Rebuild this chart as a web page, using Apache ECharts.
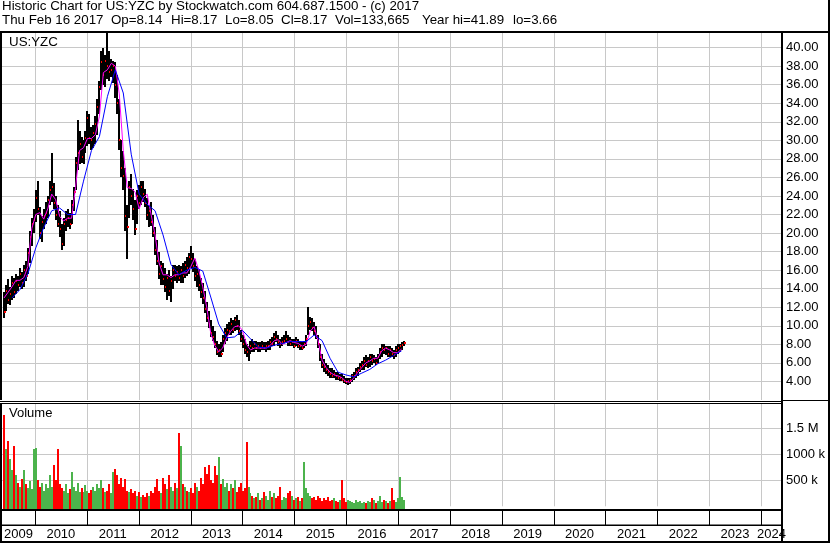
<!DOCTYPE html>
<html><head><meta charset="utf-8">
<script src="https://cdn.jsdelivr.net/npm/echarts@6/dist/echarts.min.js"></script>
<style>html,body{margin:0;padding:0;background:#fff}#c{width:830px;height:543px}</style>
</head><body><div id="c"></div>
<script>
// ---------- DATA ----------
const title1 = 'Historic Chart for US:YZC by Stockwatch.com 604.687.1500 - (c) 2017';
const title2Parts = ['Thu Feb 16 2017', 'Op=8.14', 'Hi=8.17', 'Lo=8.05', 'Cl=8.17', 'Vol=133,665', 'Year hi=41.89', 'lo=3.66'];
const symbolLabel = 'US:YZC';
const volumeLabel = 'Volume';
const axisStart = [2009, 4, 14];   // y, m(0-based), d
const axisEnd = [2024, 4, 28];
const firstBar = [2009, 4, 28];    // first 2-week bar
const barStepDays = 14;
const years = ['2009','2010','2011','2012','2013','2014','2015','2016','2017','2018','2019','2020','2021','2022','2023','2024'];
const priceTickValues = [4,6,8,10,12,14,16,18,20,22,24,26,28,30,32,34,36,38,40];
const priceTickLabels = ['4.00','6.00','8.00','10.00','12.00','14.00','16.00','18.00','20.00','22.00','24.00','26.00','28.00','30.00','32.00','34.00','36.00','38.00','40.00'];
const volTickValues = [500000, 1000000, 1500000];
const volTickLabels = ['500 k', '1000 k', '1.5 M'];

const low = [
10.8,11.6,12.4,12.2,12.8,13.0,13.4,13.8,14.2,14.0,
14.2,14.8,15.6,16.8,18.6,20.0,21.2,22.0,19.4,19.0,
20.4,21.0,21.6,23.0,23.4,22.6,21.4,20.6,19.6,18.2,
18.6,20.2,20.6,20.4,21.0,22.4,24.6,26.8,27.4,27.6,
27.4,28.6,29.4,29.6,29.0,29.2,29.6,30.6,32.8,35.4,
36.0,35.8,36.6,36.4,36.8,36.2,34.6,32.8,29.0,26.0,
24.6,20.2,17.2,21.6,23.0,21.4,19.8,21.0,22.6,23.0,
23.4,22.8,21.4,20.6,20.8,19.6,17.6,16.6,15.0,14.4,
14.4,13.6,12.8,13.2,12.6,14.0,14.8,14.6,14.8,14.6,
14.6,15.2,15.4,15.6,16.2,15.8,14.8,14.2,13.8,13.0,
12.4,11.4,10.4,9.8,8.8,8.4,7.6,6.8,6.6,6.6,
7.2,8.0,8.4,9.0,9.0,9.2,9.4,9.6,9.0,8.2,
7.6,7.0,6.6,6.2,7.0,7.2,7.2,7.4,7.2,7.2,
7.4,7.4,7.2,7.4,7.4,7.8,7.8,8.2,7.8,7.6,
7.8,8.0,8.2,7.8,7.8,7.8,7.6,7.8,7.6,7.4,
7.4,7.6,7.8,9.0,9.6,9.4,9.0,8.6,7.6,6.2,
5.4,5.0,4.8,4.6,4.4,4.4,4.4,4.2,4.2,4.0,
4.0,3.8,3.7,3.66,3.7,3.9,4.2,4.4,4.6,5.0,
5.2,5.2,5.6,5.4,5.6,5.8,6.0,5.8,6.0,6.4,
6.6,7.0,6.8,6.6,6.6,6.6,6.4,6.6,7.0,7.2,
7.4,7.8];
const high = [
13.6,14.4,15.0,14.2,15.4,15.2,15.6,15.4,16.2,15.8,
16.6,17.0,18.4,20.2,21.6,22.6,24.6,25.6,22.8,21.8,
22.6,23.4,24.0,25.6,28.6,25.4,24.0,23.0,22.4,21.0,
21.6,22.4,22.6,22.2,23.6,25.0,28.2,32.2,31.0,30.4,
30.0,31.0,33.2,32.8,31.4,31.6,32.6,34.4,36.4,39.6,
40.0,39.2,41.89,39.6,38.8,38.6,38.4,37.0,34.4,30.0,
28.8,27.0,23.0,25.6,26.4,24.8,23.6,24.6,25.2,25.6,
25.6,24.8,23.8,23.0,23.4,22.0,20.6,19.2,18.0,17.0,
16.8,16.2,15.6,16.0,15.4,16.6,16.6,16.4,16.6,16.4,
16.8,17.0,17.4,17.8,18.6,17.8,17.2,16.4,16.0,15.2,
14.6,13.8,12.6,11.6,10.6,10.0,9.4,8.4,8.0,8.2,
9.0,9.8,10.2,10.4,10.8,10.6,11.0,11.2,10.6,9.6,
9.0,8.6,8.0,7.8,8.4,8.6,8.4,8.4,8.2,8.2,
8.4,8.2,8.2,8.4,8.6,8.8,9.2,9.4,9.0,8.6,
8.8,9.0,9.4,9.0,8.8,8.6,8.6,8.8,8.6,8.4,
8.2,8.4,9.0,12.0,11.0,10.8,10.4,10.0,9.0,8.0,
7.0,6.4,6.0,5.8,5.4,5.4,5.2,5.0,5.0,4.8,
4.8,4.6,4.4,4.4,4.4,4.8,5.0,5.4,5.6,6.0,
6.2,6.6,6.8,6.6,7.0,7.0,6.8,6.6,7.0,7.6,
8.0,8.0,7.8,7.8,7.8,7.6,7.4,7.8,8.0,8.0,
8.2,8.4];
const close = [
11.5,13.8,12.8,13.4,14.6,13.6,14.8,14.4,15.6,14.6,
16.0,15.4,17.8,19.6,21.0,21.4,23.8,22.6,20.0,21.2,
21.8,22.2,23.6,24.6,25.0,23.2,22.0,21.0,20.4,18.8,
21.0,21.4,21.6,21.0,23.0,24.4,27.6,28.6,29.6,28.2,
29.4,30.2,32.4,30.2,30.0,30.8,31.8,33.6,35.8,38.4,
37.0,38.6,38.0,37.4,37.6,38.0,36.0,34.0,30.0,27.0,
26.2,21.8,20.6,25.0,24.0,22.6,20.4,24.0,23.2,25.0,
24.2,23.2,22.0,22.4,21.2,20.0,18.2,17.0,15.6,16.4,
15.0,14.2,15.2,13.8,14.8,16.0,15.4,15.8,15.2,16.0,
15.4,16.6,16.2,17.4,17.2,16.4,15.4,15.6,14.4,13.6,
13.0,11.8,10.8,10.2,9.2,8.8,8.0,7.2,7.4,7.0,
8.6,9.2,9.6,9.4,10.2,9.6,10.6,10.0,9.4,8.6,
8.0,7.4,7.2,7.4,7.8,7.6,8.0,7.6,7.8,7.6,
7.8,7.6,7.8,7.8,8.2,8.0,8.8,8.6,8.2,8.0,
8.2,8.4,8.6,8.2,8.0,8.2,7.8,8.4,7.8,7.8,
7.6,8.0,8.6,10.0,10.4,9.8,9.4,8.8,8.0,6.6,
5.8,5.6,5.2,5.0,4.8,4.6,4.8,4.6,4.4,4.4,
4.2,4.0,3.9,4.0,4.2,4.6,4.6,5.0,5.2,5.6,
5.8,6.2,5.8,6.2,6.6,6.2,6.4,6.0,6.6,7.2,
7.6,7.4,7.6,7.0,7.4,7.0,6.8,7.4,7.6,7.8,
7.9,8.17];
const volumeK = [
1760,1100,1250,900,700, 1150,600,450,380,520,
700,420,350,480,330, 1100,1120,500,380,450,
300,420,350,600,380, 800,500,1100,420,350,
300,420,250,330,650, 380,300,450,280,350,
280,400,300,250,320, 380,300,420,350,500,
350,280,300,420,250, 650,720,600,420,550,
380,520,300,280,330, 250,300,200,280,180,
220,180,260,200,300, 260,380,520,300,250,
550,420,330,600,380, 300,450,350,1400,1160,
420,380,300,280,350, 250,450,380,300,550,
420,750,620,800,500, 450,780,600,950,420,
520,380,450,300,420, 350,500,280,380,450,
300,350,1240,380,250, 200,150,180,250,120,
150,280,200,120,300, 180,250,150,200,380,
120,180,150,250,300, 200,120,150,180,100,
150,860,350,250,200, 150,180,120,200,150,
100,150,120,180,100, 120,150,100,80,120,
500,150,80,120,100, 80,60,120,80,100,
60,80,60,100,80, 150,120,60,100,200,
80,120,100,60,100, 350,120,80,150,570,
180,130];
// magenta average, read every 2nd bar
const maFast = [
13.0,13.6,14.2,14.9,14.9,15.2,16.4,20.5,22.0,22.2,
21.5,22.6,24.2,23.6,21.8,21.3,21.6,21.6,24.9,28.9,
29.2,30.2,30.2,30.6,32.6,37.3,37.6,38.3,38.0,35.0,
28.9,24.9,24.8,24.4,22.6,23.8,24.2,22.0,19.8,16.8,
15.5,15.5,15.2,15.5,15.5,15.7,15.7,16.4,17.3,16.0,
14.2,12.0,9.2,7.9,7.2,7.6,8.7,9.4,9.9,10.0,
9.5,8.0,7.4,7.6,7.6,7.6,7.6,7.9,8.4,8.5,
8.0,8.2,8.4,8.2,8.1,7.8,8.0,9.4,9.9,8.4,
6.3,5.5,5.0,4.7,4.6,4.4,4.0,3.9,4.4,5.0,
5.5,6.0,6.2,6.5,6.5,7.3,7.6,7.4,7.1,7.1,
7.5];
// blue average, read every 4th bar starting at bar 4
const maSlow = [
13.0,13.9,15.6,18.4,20.6,22.4,22.7,22.0,22.0,25.6,
28.9,30.4,34.7,37.6,35.1,28.5,24.2,23.1,22.4,19.8,
16.6,15.5,16.0,16.3,15.9,13.1,10.2,8.7,8.8,9.5,
8.6,7.7,7.6,7.9,8.1,8.3,8.3,8.3,9.0,8.4,
6.5,5.0,4.7,4.5,4.9,5.3,5.9,6.3,6.8,7.3];

// ---------- LAYOUT ----------
const FONT = '"Liberation Sans", Arial, sans-serif';
const title2X = [2, 111, 171, 225, 281, 335, 422, 513];

// ---------- BUILD ----------
const tMin = new Date(axisStart[0], axisStart[1], axisStart[2]).getTime();
const tMax = new Date(axisEnd[0], axisEnd[1], axisEnd[2]).getTime();
const barTime = i => new Date(firstBar[0], firstBar[1], firstBar[2] + barStepDays * i).getTime();

const ohlc = close.map((c, i) => [barTime(i), high[i], low[i], c]);
const vol = volumeK.map((v, i) => [barTime(i), v * 1000, (i > 0 && close[i] >= close[i - 1]) ? 1 : 0]);
const fastLine = maFast.map((v, k) => [barTime(2 * k), v]);
const slowLine = maSlow.map((v, k) => [barTime(4 + 4 * k), v]);
const yearData = years.map(y => [new Date(+y, 0, 1).getTime(), new Date(+y + 1, 0, 1).getTime()]);

const gridLineSeries = (gi) => ({
  type: 'custom', xAxisIndex: gi, yAxisIndex: gi, data: yearData, z: 1, silent: true,
  encode: { x: 0 },
  renderItem: (params, api) => {
    const cs = params.coordSys;
    const x = Math.round(api.coord([api.value(0), gi === 0 ? 10 : 0])[0]) + 0.5;
    if (x <= cs.x + 1 || x >= cs.x + cs.width) return null;
    return { type: 'line', shape: { x1: x, y1: cs.y, x2: x, y2: cs.y + cs.height }, style: { stroke: '#c8c8c8', lineWidth: 1 } };
  }
});

const labelStyle = { color: '#000', fontFamily: FONT, fontSize: 13 };

const headerTexts = title2Parts.map((t, i) => ({
  type: 'text', z: 101, x: title2X[i], y: 20.5,
  style: { text: t, font: '13.33px ' + FONT, fill: '#000', verticalAlign: 'middle' }
}));

const option = {
  animation: false,
  backgroundColor: '#fff',
  grid: [
    { left: 2, right: 48, top: 29, height: 371 },
    { left: 2, right: 48, top: 404, height: 102.3 },
    { left: 2, right: 48, top: 511, height: 30 }
  ],
  xAxis: [0, 1, 2].map(i => ({ type: 'time', gridIndex: i, min: tMin, max: tMax, show: false })),
  yAxis: [
    { type: 'value', gridIndex: 0, position: 'right', min: 2, max: 42, interval: 2,
      axisLine: { show: false }, axisTick: { show: false },
      axisLabel: Object.assign({ margin: 4, formatter: v => { const k = priceTickValues.indexOf(v); return k >= 0 ? priceTickLabels[k] : ''; } }, labelStyle),
      splitLine: { show: true, lineStyle: { color: '#c8c8c8', width: 1 } } },
    { type: 'value', gridIndex: 1, position: 'right', min: 0, max: 1967000, interval: 500000,
      axisLine: { show: false }, axisTick: { show: false },
      axisLabel: Object.assign({ margin: 4, formatter: v => { const k = volTickValues.indexOf(v); return k >= 0 ? volTickLabels[k] : ''; } }, labelStyle),
      splitLine: { show: true, showMinLine: false, showMaxLine: false, lineStyle: { color: '#c8c8c8', width: 1 } } },
    { type: 'value', gridIndex: 2, min: 0, max: 1, show: false }
  ],
  series: [
    gridLineSeries(0),
    gridLineSeries(1),
    { type: 'custom', name: 'price', xAxisIndex: 0, yAxisIndex: 0, data: ohlc, z: 2, clip: true,
      encode: { x: 0, y: [1, 2, 3] },
      renderItem: (params, api) => {
        const t = api.value(0);
        const pH = api.coord([t, api.value(1)]), pL = api.coord([t, api.value(2)]), pC = api.coord([t, api.value(3)]);
        const x = Math.round(pH[0]) - 1;
        const yT = Math.round(pH[1]), yB = Math.round(pL[1]);
        return { type: 'group', children: [
          { type: 'rect', shape: { x: x, y: yT, width: 2, height: Math.max(1, yB - yT) }, style: { fill: '#000' } },
          { type: 'rect', shape: { x: x + 1, y: Math.round(pC[1]) - 1, width: 2, height: 2 }, style: { fill: '#ff0000' } }
        ] };
      } },
    { type: 'line', name: 'fast', xAxisIndex: 0, yAxisIndex: 0, data: fastLine, z: 3, showSymbol: false, smooth: false,
      lineStyle: { color: '#ff00ff', width: 1 }, itemStyle: { color: '#ff00ff' } },
    { type: 'line', name: 'slow', xAxisIndex: 0, yAxisIndex: 0, data: slowLine, z: 4, showSymbol: false, smooth: false,
      lineStyle: { color: '#0000ff', width: 1 }, itemStyle: { color: '#0000ff' } },
    { type: 'custom', name: 'volume', xAxisIndex: 1, yAxisIndex: 1, data: vol, z: 2, clip: false,
      encode: { x: 0, y: 1 },
      renderItem: (params, api) => {
        const t = api.value(0);
        const p = api.coord([t, api.value(1)]), p0 = api.coord([t, 0]);
        const x = Math.round(p[0]) - 1;
        const yT = Math.round(p[1]);
        return { type: 'rect', shape: { x: x, y: yT, width: 2, height: Math.round(p0[1]) + 3 - yT },
          style: { fill: api.value(2) ? '#4cb34c' : '#ff0000' } };
      } },
    { type: 'custom', name: 'years', xAxisIndex: 2, yAxisIndex: 2, data: yearData, z: 5, clip: false, silent: true,
      encode: { x: [0, 1] },
      renderItem: (params, api) => {
        const cs = params.coordSys;
        const xs = api.coord([api.value(0), 0])[0], xe = api.coord([api.value(1), 0])[0];
        const left = Math.max(xs, cs.x), right = Math.min(xe, cs.x + cs.width);
        const children = [];
        if (xs > cs.x + 1 && xs < cs.x + cs.width) {
          const xl = Math.round(xs) + 0.5;
          children.push({ type: 'line', shape: { x1: xl, y1: 511, x2: xl, y2: 525 }, style: { stroke: '#000', lineWidth: 1 } });
        }
        if (right > left) {
          children.push({ type: 'text', style: { text: years[params.dataIndex], x: (left + right) / 2, y: 534.5,
            align: 'center', verticalAlign: 'middle', font: '13px ' + FONT, fill: '#000' } });
        }
        return { type: 'group', children };
      } }
  ],
  graphic: { elements: [
    { type: 'rect', z: 100, shape: { x: 0, y: 0, width: 830, height: 31 }, style: { fill: '#fff' } },
    { type: 'text', z: 101, x: 2, y: 6.5, style: { text: title1, font: '13.33px ' + FONT, fill: '#000', verticalAlign: 'middle' } }
  ].concat(headerTexts).concat([
    { type: 'rect', z: 101, shape: { x: 0, y: 31, width: 830, height: 2 }, style: { fill: '#000' } },
    { type: 'rect', z: 101, shape: { x: 0, y: 31, width: 2, height: 512 }, style: { fill: '#000' } },
    { type: 'rect', z: 101, shape: { x: 828, y: 0, width: 2, height: 543 }, style: { fill: '#000' } },
    { type: 'rect', z: 101, shape: { x: 0, y: 541, width: 830, height: 2 }, style: { fill: '#000' } },
    { type: 'rect', z: 101, shape: { x: 781, y: 31, width: 2, height: 512 }, style: { fill: '#000' } },
    { type: 'rect', z: 101, shape: { x: 0, y: 400, width: 781, height: 3 }, style: { fill: '#fff' } },
    { type: 'rect', z: 101, shape: { x: 0, y: 401, width: 781, height: 1 }, style: { fill: '#000' } },
    { type: 'rect', z: 101, shape: { x: 0, y: 403, width: 781, height: 1 }, style: { fill: '#000' } },
    { type: 'rect', z: 101, shape: { x: 783, y: 400, width: 45, height: 1 }, style: { fill: '#000' } },
    { type: 'rect', z: 101, shape: { x: 0, y: 509, width: 781, height: 2 }, style: { fill: '#000' } },
    { type: 'rect', z: 101, shape: { x: 0, y: 524.5, width: 781, height: 1.5 }, style: { fill: '#000' } },
    { type: 'text', z: 101, x: 9, y: 42.5, style: { text: symbolLabel, font: '13.33px ' + FONT, fill: '#000', verticalAlign: 'middle' } },
    { type: 'text', z: 101, x: 9, y: 413, style: { text: volumeLabel, font: '13px ' + FONT, fill: '#000', verticalAlign: 'middle' } }
  ]) }
};

const chart = echarts.init(document.getElementById('c'), null, { renderer: 'canvas' });
chart.setOption(option);
</script>
</body></html>
